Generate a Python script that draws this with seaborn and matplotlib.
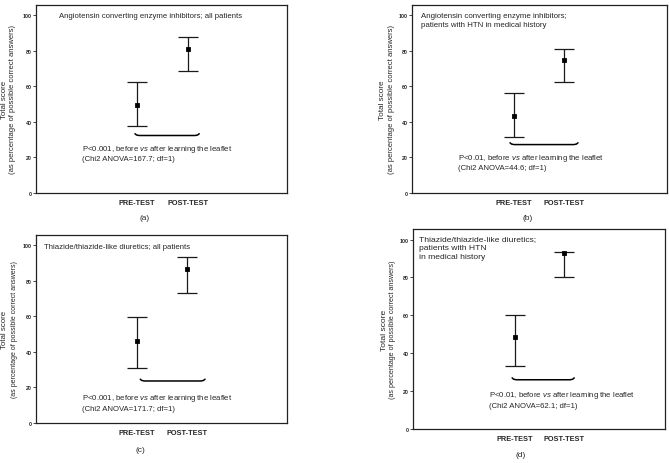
import numpy as np
import pandas as pd
import matplotlib
matplotlib.use("Agg")
import matplotlib.pyplot as plt
import seaborn as sns

# ---------------- data ----------------
tests = ["PRE-TEST", "POST-TEST"]

mean_a = [49.5, 80.8]
low_a = [37.5, 68.7]
high_a = [62.3, 87.4]

mean_b = [43.3, 74.8]
low_b = [31.2, 62.5]
high_b = [56.1, 81.1]

mean_c = [46.2, 86.3]
low_c = [31.1, 73.2]
high_c = [59.7, 93.1]

mean_d = [48.4, 93.0]
low_d = [33.4, 80.3]
high_d = [60.2, 93.7]

titles = [
    "Angiotensin converting enzyme inhibitors; all patients",
    "Angiotensin converting enzyme inhibitors;\npatients with HTN in medical history",
    "Thiazide/thiazide-like diuretics; all patients",
    "Thiazide/thiazide-like diuretics;\npatients with HTN\nin medical history",
]
stats_text = [
    "P<0.001, before $\\it{vs}$ after learning the leaflet\n(Chi2 ANOVA=167.7; df=1)",
    "P<0.01, before $\\it{vs}$ after learning the leaflet\n(Chi2 ANOVA=44.6; df=1)",
    "P<0.001, before $\\it{vs}$ after learning the leaflet\n(Chi2 ANOVA=171.7; df=1)",
    "P<0.01, before $\\it{vs}$ after learning the leaflet\n(Chi2 ANOVA=62.1; df=1)",
]
captions = ["(a)", "(b)", "(c)", "(d)"]
ylabel1 = "Total score"
ylabel2 = "(as percentage of possible correct answers)"

# ---------------- style ----------------
sns.set_theme(style="ticks")
plt.rcParams['font.family'] = ['Liberation Sans', 'DejaVu Sans']
plt.rcParams['mathtext.fontset'] = 'custom'
plt.rcParams['mathtext.it'] = 'Liberation Sans:italic'
plt.rcParams['mathtext.rm'] = 'Liberation Sans'

W, H = 669, 464
fig = plt.figure(figsize=(W / 100, H / 100), dpi=100)


def rect(l, r, t, b):
    return [l / W, 1 - b / H, (r - l) / W, (b - t) / H]


panels = [
    dict(box=(36, 287, 6, 194), xlim=(-1.98, 2.94), mean=mean_a, low=low_a, high=high_a,
         title_pos=(0.092, 0.962), title_fs=5.55,
         brace=(-0.04, 1.22, 32.3), text_pos=(-1.08, 28.3), text_fs=5.6,
         ylab=(5, 13, 100), ylab_fs=(5.7, 5.5),
         cap=(145, 219)),
    dict(box=(412, 667, 6, 194), xlim=(-2.04, 3.06), mean=mean_b, low=low_b, high=high_b,
         title_pos=(0.035, 0.962), title_fs=5.7,
         brace=(-0.08, 1.28, 27.2), text_pos=(-1.12, 23.2), text_fs=5.6,
         ylab=(383, 392, 100), ylab_fs=(5.9, 5.5),
         cap=(528, 219)),
    dict(box=(36, 287, 236, 424), xlim=(-1.99, 2.97), mean=mean_c, low=low_c, high=high_c,
         title_pos=(0.032, 0.958), title_fs=5.55,
         brace=(0.07, 1.35, 23.6), text_pos=(-1.08, 17.2), text_fs=5.6,
         ylab=(5, 15, 330), ylab_fs=(5.7, 5.0),
         cap=(140, 451)),
    dict(box=(413, 665, 230, 430), xlim=(-2.07, 3.04), mean=mean_d, low=low_d, high=high_d,
         title_pos=(0.024, 0.968), title_fs=6.1,
         brace=(-0.06, 1.2, 26.0), text_pos=(-0.53, 21.0), text_fs=5.6,
         ylab=(384, 393, 330), ylab_fs=(6.1, 5.1),
         cap=(521, 456)),
]

for i, p in enumerate(panels):
    ax = fig.add_axes(rect(*p['box']))
    df = pd.DataFrame({"test": tests, "score": p['mean'],
                       "low": p['low'], "high": p['high']})
    mean = np.array(p['mean'])
    err = [mean - np.array(p['low']), np.array(p['high']) - mean]
    ax.errorbar(x=np.arange(len(tests)), y=mean, yerr=err, fmt='none',
                ecolor='#1a1a1a', elinewidth=0.9, capsize=7, capthick=0.9, zorder=2)
    sns.pointplot(data=df, x="test", y="score", order=tests, errorbar=None,
                  markers='s', linestyle='none', color='black', markersize=1.7,
                  ax=ax, zorder=3)

    ax.set_xlim(*p['xlim'])
    ax.set_ylim(0, 105.6)
    ax.set_yticks(range(0, 101, 20))
    ax.set_xlabel("")
    ax.set_ylabel("")
    ax.tick_params(axis='y', length=2, width=0.6, pad=1, labelsize=3.8)
    ax.tick_params(axis='x', length=0, pad=4, labelsize=5.3)
    for lab in ax.get_xticklabels() + ax.get_yticklabels():
        lab.set_fontweight('bold')
    for s in ax.spines.values():
        s.set_visible(True)
        s.set_linewidth(0.9)
        s.set_color('#222222')

    # title inside the axes
    ax.text(p['title_pos'][0], p['title_pos'][1], titles[i], transform=ax.transAxes,
            ha='left', va='top', fontsize=p['title_fs'], linespacing=1.35)

    # brace
    x0, x1, yb = p['brace']
    ax.plot([x0, x0 + 0.03, x0 + 0.08, x1 - 0.08, x1 - 0.03, x1],
            [yb + 1.0, yb + 0.3, yb, yb, yb + 0.3, yb + 1.0],
            color='black', lw=1.1, solid_capstyle='round')

    # stats text
    ax.text(p['text_pos'][0], p['text_pos'][1], stats_text[i], ha='left', va='top',
            fontsize=p['text_fs'], linespacing=1.35)

    # y labels
    lx1, lx2, ly = p['ylab']
    cy = 1 - ly / H
    fig.text(lx1 / W, cy, ylabel1, rotation=90, ha='center', va='center',
             fontsize=p['ylab_fs'][0])
    fig.text(lx2 / W, cy, ylabel2, rotation=90, ha='center', va='center',
             fontsize=p['ylab_fs'][1])

    # caption
    fig.text(p['cap'][0] / W, 1 - p['cap'][1] / H, captions[i], ha='center',
             va='center', fontsize=6)

fig.savefig("out.png", dpi=100)
